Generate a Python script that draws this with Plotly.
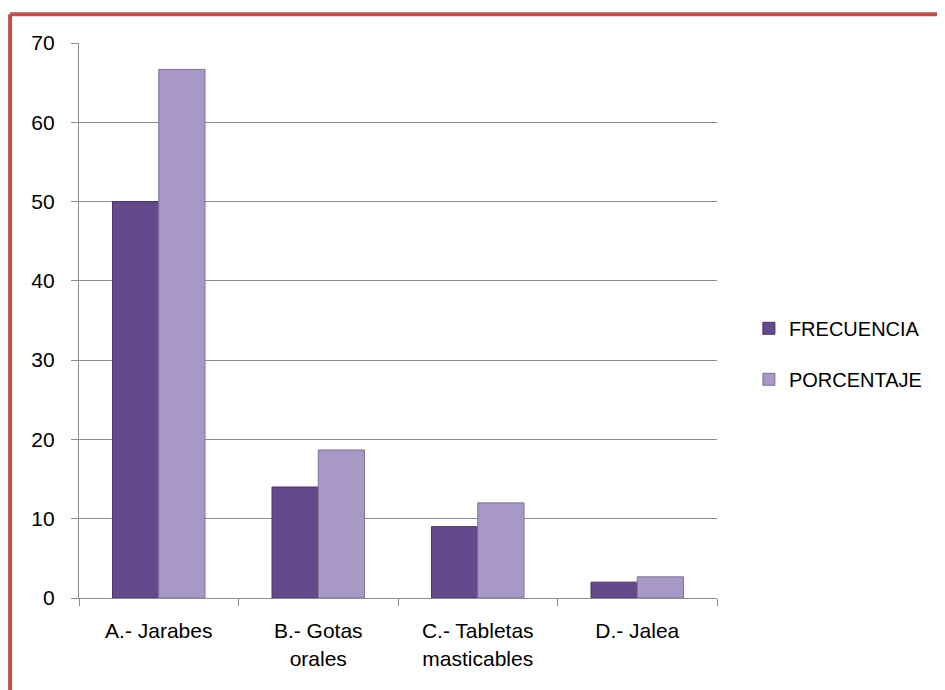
import plotly.graph_objects as go

categorias = ["A.- Jarabes", "B.- Gotas<br>orales", "C.- Tabletas<br>masticables", "D.- Jalea"]
frecuencia = [50, 14, 9, 2]
porcentaje = [66.67, 18.67, 12, 2.67]

FONT = "Liberation Sans, Arial, sans-serif"

fig = go.Figure()
fig.add_trace(go.Bar(x=categorias, y=frecuencia, name="FRECUENCIA", legendgroup="f",
                     marker=dict(color="#64498C", line=dict(color="#4A3566", width=1))))
fig.add_trace(go.Bar(x=categorias, y=porcentaje, name="PORCENTAJE", legendgroup="p",
                     marker=dict(color="#A898C6", line=dict(color="#7E7296", width=1))))

# la página añade 8px de margen al body, se compensa aquí
fig.update_layout(
    width=937, height=682,
    margin=dict(l=71, r=228, t=35, b=92),
    paper_bgcolor="white", plot_bgcolor="white",
    barmode="group", bargap=0.42, bargroupgap=0,
    font=dict(family=FONT, size=21, color="black"),
    legend=dict(x=1.05, y=0.44, xanchor="left", yanchor="middle",
                font=dict(size=20), itemwidth=30, tracegroupgap=22,
                traceorder="grouped"),
    showlegend=True,
)
fig.update_yaxes(range=[0, 70], dtick=10, showgrid=True, gridcolor="#8C8C8C", gridwidth=1.2,
                 showline=True, linecolor="#8C8C8C", linewidth=1.2,
                 ticks="outside", ticklen=7, tickcolor="#8C8C8C", ticklabelstandoff=12,
                 zeroline=False)
fig.update_xaxes(showline=True, linecolor="#8C8C8C", linewidth=1.2,
                 ticks="outside", tickson="boundaries", ticklen=7, tickcolor="#8C8C8C",
                 ticklabelstandoff=14, showgrid=False)

# marco rojo (arriba e izquierda)
fig.add_shape(type="line", xref="paper", yref="paper", x0=-0.108, x1=1.4, y0=1.052, y1=1.052,
              line=dict(color="#C0504D", width=4))
fig.add_shape(type="line", xref="paper", yref="paper", x0=-0.108, x1=-0.108, y0=1.052, y1=-0.2,
              line=dict(color="#C0504D", width=4))

fig.write_html("out.html")
